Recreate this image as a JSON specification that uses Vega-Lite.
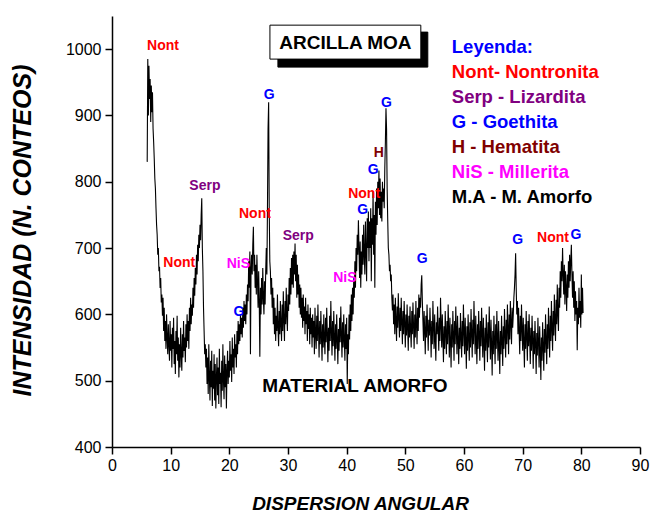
{
  "$schema": "https://vega.github.io/schema/vega-lite/v6.json",
  "autosize": "none",
  "width": 528,
  "height": 431,
  "padding": {"left": 112, "top": 16, "right": 12, "bottom": 67},
  "background": "white",
  "config": {"view": {"stroke": null}, "font": "Liberation Sans"},
  "datasets": {
    "xrd": [
      {"x":6.0,"y":830},{"x":6.1,"y":985},{"x":6.2,"y":900},{"x":6.3,"y":975},{"x":6.4,"y":925},{"x":6.5,"y":955},{"x":6.6,"y":890},{"x":6.7,"y":945},{"x":6.8,"y":905},{"x":6.9,"y":935},
      {"x":7.0,"y":880},{"x":7.1,"y":860},{"x":7.2,"y":835},{"x":7.3,"y":805},{"x":7.4,"y":790},{"x":7.5,"y":760},{"x":7.6,"y":735},{"x":7.7,"y":720},{"x":7.8,"y":690},{"x":7.9,"y":700},
      {"x":8.0,"y":665},{"x":8.1,"y":672},{"x":8.2,"y":640},{"x":8.3,"y":655},{"x":8.4,"y":618},{"x":8.5,"y":630},{"x":8.6,"y":598},{"x":8.7,"y":625},{"x":8.8,"y":575},{"x":8.9,"y":610},
      {"x":9.0,"y":560},{"x":9.1,"y":590},{"x":9.2,"y":548},{"x":9.3,"y":600},{"x":9.4,"y":565},{"x":9.5,"y":540},{"x":9.6,"y":585},{"x":9.7,"y":555},{"x":9.8,"y":530},{"x":9.9,"y":590},
      {"x":10.0,"y":545},{"x":10.1,"y":570},{"x":10.2,"y":520},{"x":10.3,"y":580},{"x":10.4,"y":548},{"x":10.5,"y":595},{"x":10.6,"y":525},{"x":10.7,"y":560},{"x":10.8,"y":510},{"x":10.9,"y":575},
      {"x":11.0,"y":540},{"x":11.1,"y":598},{"x":11.2,"y":530},{"x":11.3,"y":565},{"x":11.4,"y":505},{"x":11.5,"y":555},{"x":11.6,"y":520},{"x":11.7,"y":580},{"x":11.8,"y":540},{"x":11.9,"y":515},
      {"x":12.0,"y":570},{"x":12.1,"y":535},{"x":12.2,"y":590},{"x":12.3,"y":545},{"x":12.4,"y":565},{"x":12.5,"y":528},{"x":12.6,"y":585},{"x":12.7,"y":550},{"x":12.8,"y":600},{"x":12.9,"y":560},
      {"x":13.0,"y":590},{"x":13.1,"y":548},{"x":13.2,"y":610},{"x":13.3,"y":575},{"x":13.4,"y":625},{"x":13.5,"y":585},{"x":13.6,"y":615},{"x":13.7,"y":598},{"x":13.8,"y":640},{"x":13.9,"y":610},
      {"x":14.0,"y":655},{"x":14.1,"y":628},{"x":14.2,"y":670},{"x":14.3,"y":645},{"x":14.4,"y":690},{"x":14.5,"y":660},{"x":14.6,"y":705},{"x":14.7,"y":680},{"x":14.8,"y":720},{"x":14.9,"y":700},
      {"x":15.0,"y":735},{"x":15.1,"y":712},{"x":15.2,"y":750},{"x":15.3,"y":775},{"x":15.4,"y":700},{"x":15.5,"y":665},{"x":15.6,"y":610},{"x":15.7,"y":575},{"x":15.8,"y":540},{"x":15.9,"y":555},
      {"x":16.0,"y":520},{"x":16.1,"y":548},{"x":16.2,"y":495},{"x":16.3,"y":535},{"x":16.4,"y":480},{"x":16.5,"y":555},{"x":16.6,"y":505},{"x":16.7,"y":470},{"x":16.8,"y":530},{"x":16.9,"y":490},
      {"x":17.0,"y":545},{"x":17.1,"y":462},{"x":17.2,"y":515},{"x":17.3,"y":488},{"x":17.4,"y":540},{"x":17.5,"y":470},{"x":17.6,"y":525},{"x":17.7,"y":458},{"x":17.8,"y":505},{"x":17.9,"y":535},
      {"x":18.0,"y":478},{"x":18.1,"y":520},{"x":18.2,"y":465},{"x":18.3,"y":548},{"x":18.4,"y":495},{"x":18.5,"y":512},{"x":18.6,"y":460},{"x":18.7,"y":530},{"x":18.8,"y":485},{"x":18.9,"y":555},
      {"x":19.0,"y":500},{"x":19.1,"y":472},{"x":19.2,"y":538},{"x":19.3,"y":490},{"x":19.4,"y":525},{"x":19.5,"y":458},{"x":19.6,"y":515},{"x":19.7,"y":545},{"x":19.8,"y":495},{"x":19.9,"y":530},
      {"x":20.0,"y":505},{"x":20.1,"y":560},{"x":20.2,"y":515},{"x":20.3,"y":540},{"x":20.4,"y":498},{"x":20.5,"y":565},{"x":20.6,"y":520},{"x":20.7,"y":548},{"x":20.8,"y":510},{"x":20.9,"y":570},
      {"x":21.0,"y":535},{"x":21.1,"y":555},{"x":21.2,"y":520},{"x":21.3,"y":575},{"x":21.4,"y":540},{"x":21.5,"y":590},{"x":21.6,"y":555},{"x":21.7,"y":585},{"x":21.8,"y":560},{"x":21.9,"y":600},
      {"x":22.0,"y":570},{"x":22.1,"y":595},{"x":22.2,"y":565},{"x":22.3,"y":610},{"x":22.4,"y":580},{"x":22.5,"y":620},{"x":22.6,"y":590},{"x":22.7,"y":615},{"x":22.8,"y":585},{"x":22.9,"y":630},
      {"x":23.0,"y":600},{"x":23.1,"y":645},{"x":23.2,"y":620},{"x":23.3,"y":680},{"x":23.4,"y":640},{"x":23.5,"y":695},{"x":23.6,"y":540},{"x":23.7,"y":670},{"x":23.8,"y":690},{"x":23.9,"y":660},
      {"x":24.0,"y":705},{"x":24.1,"y":732},{"x":24.2,"y":665},{"x":24.3,"y":690},{"x":24.4,"y":640},{"x":24.5,"y":675},{"x":24.6,"y":630},{"x":24.7,"y":690},{"x":24.8,"y":650},{"x":24.9,"y":610},
      {"x":25.0,"y":665},{"x":25.1,"y":620},{"x":25.2,"y":536},{"x":25.3,"y":640},{"x":25.4,"y":600},{"x":25.5,"y":655},{"x":25.6,"y":615},{"x":25.7,"y":670},{"x":25.8,"y":625},{"x":25.9,"y":600},
      {"x":26.0,"y":650},{"x":26.1,"y":615},{"x":26.2,"y":665},{"x":26.3,"y":700},{"x":26.4,"y":660},{"x":26.5,"y":760},{"x":26.6,"y":880},{"x":26.7,"y":920},{"x":26.8,"y":760},{"x":26.9,"y":680},
      {"x":27.0,"y":665},{"x":27.1,"y":630},{"x":27.2,"y":655},{"x":27.3,"y":610},{"x":27.4,"y":640},{"x":27.5,"y":585},{"x":27.6,"y":625},{"x":27.7,"y":570},{"x":27.8,"y":610},{"x":27.9,"y":560},
      {"x":28.0,"y":598},{"x":28.1,"y":575},{"x":28.2,"y":630},{"x":28.3,"y":580},{"x":28.4,"y":552},{"x":28.5,"y":605},{"x":28.6,"y":570},{"x":28.7,"y":620},{"x":28.8,"y":585},{"x":28.9,"y":560},
      {"x":29.0,"y":615},{"x":29.1,"y":575},{"x":29.2,"y":635},{"x":29.3,"y":590},{"x":29.4,"y":560},{"x":29.5,"y":620},{"x":29.6,"y":585},{"x":29.7,"y":640},{"x":29.8,"y":600},{"x":29.9,"y":575},
      {"x":30.0,"y":630},{"x":30.1,"y":605},{"x":30.2,"y":655},{"x":30.3,"y":615},{"x":30.4,"y":670},{"x":30.5,"y":630},{"x":30.6,"y":685},{"x":30.7,"y":645},{"x":30.8,"y":690},{"x":30.9,"y":640},
      {"x":31.0,"y":695},{"x":31.1,"y":660},{"x":31.2,"y":707},{"x":31.3,"y":650},{"x":31.4,"y":690},{"x":31.5,"y":625},{"x":31.6,"y":675},{"x":31.7,"y":630},{"x":31.8,"y":660},{"x":31.9,"y":610},
      {"x":32.0,"y":645},{"x":32.1,"y":600},{"x":32.2,"y":640},{"x":32.3,"y":595},{"x":32.4,"y":625},{"x":32.5,"y":580},{"x":32.6,"y":630},{"x":32.7,"y":590},{"x":32.8,"y":612},{"x":32.9,"y":570},
      {"x":33.0,"y":625},{"x":33.1,"y":585},{"x":33.2,"y":605},{"x":33.3,"y":560},{"x":33.4,"y":615},{"x":33.5,"y":578},{"x":33.6,"y":600},{"x":33.7,"y":555},{"x":33.8,"y":610},{"x":33.9,"y":570},
      {"x":34.0,"y":595},{"x":34.1,"y":550},{"x":34.2,"y":600},{"x":34.3,"y":565},{"x":34.4,"y":590},{"x":34.5,"y":540},{"x":34.6,"y":610},{"x":34.7,"y":570},{"x":34.8,"y":548},{"x":34.9,"y":598},
      {"x":35.0,"y":560},{"x":35.1,"y":615},{"x":35.2,"y":575},{"x":35.3,"y":535},{"x":35.4,"y":590},{"x":35.5,"y":555},{"x":35.6,"y":605},{"x":35.7,"y":568},{"x":35.8,"y":530},{"x":35.9,"y":585},
      {"x":36.0,"y":550},{"x":36.1,"y":600},{"x":36.2,"y":562},{"x":36.3,"y":540},{"x":36.4,"y":595},{"x":36.5,"y":558},{"x":36.6,"y":610},{"x":36.7,"y":572},{"x":36.8,"y":528},{"x":36.9,"y":580},
      {"x":37.0,"y":545},{"x":37.1,"y":598},{"x":37.2,"y":560},{"x":37.3,"y":620},{"x":37.4,"y":575},{"x":37.5,"y":538},{"x":37.6,"y":590},{"x":37.7,"y":552},{"x":37.8,"y":605},{"x":37.9,"y":565},
      {"x":38.0,"y":530},{"x":38.1,"y":585},{"x":38.2,"y":548},{"x":38.3,"y":600},{"x":38.4,"y":562},{"x":38.5,"y":525},{"x":38.6,"y":578},{"x":38.7,"y":545},{"x":38.8,"y":595},{"x":38.9,"y":558},
      {"x":39.0,"y":612},{"x":39.1,"y":570},{"x":39.2,"y":535},{"x":39.3,"y":588},{"x":39.4,"y":550},{"x":39.5,"y":600},{"x":39.6,"y":562},{"x":39.7,"y":530},{"x":39.8,"y":585},{"x":39.9,"y":548},
      {"x":40.0,"y":595},{"x":40.1,"y":495},{"x":40.2,"y":570},{"x":40.3,"y":540},{"x":40.4,"y":600},{"x":40.5,"y":562},{"x":40.6,"y":615},{"x":40.7,"y":575},{"x":40.8,"y":630},{"x":40.9,"y":590},
      {"x":41.0,"y":640},{"x":41.1,"y":600},{"x":41.2,"y":655},{"x":41.3,"y":625},{"x":41.4,"y":680},{"x":41.5,"y":640},{"x":41.6,"y":700},{"x":41.7,"y":665},{"x":41.8,"y":720},{"x":41.9,"y":690},
      {"x":42.0,"y":742},{"x":42.1,"y":700},{"x":42.2,"y":655},{"x":42.3,"y":710},{"x":42.4,"y":640},{"x":42.5,"y":695},{"x":42.6,"y":660},{"x":42.7,"y":720},{"x":42.8,"y":675},{"x":42.9,"y":735},
      {"x":43.0,"y":690},{"x":43.1,"y":660},{"x":43.2,"y":740},{"x":43.3,"y":695},{"x":43.4,"y":650},{"x":43.5,"y":745},{"x":43.6,"y":700},{"x":43.7,"y":755},{"x":43.8,"y":680},{"x":43.9,"y":740},
      {"x":44.0,"y":700},{"x":44.1,"y":760},{"x":44.2,"y":650},{"x":44.3,"y":745},{"x":44.4,"y":705},{"x":44.5,"y":785},{"x":44.6,"y":690},{"x":44.7,"y":750},{"x":44.8,"y":640},{"x":44.9,"y":770},
      {"x":45.0,"y":720},{"x":45.1,"y":790},{"x":45.2,"y":735},{"x":45.3,"y":800},{"x":45.4,"y":760},{"x":45.5,"y":817},{"x":45.6,"y":750},{"x":45.7,"y":805},{"x":45.8,"y":745},{"x":45.9,"y":785},
      {"x":46.0,"y":740},{"x":46.1,"y":800},{"x":46.2,"y":770},{"x":46.3,"y":790},{"x":46.4,"y":760},{"x":46.5,"y":820},{"x":46.6,"y":860},{"x":46.7,"y":911},{"x":46.8,"y":880},{"x":46.9,"y":790},
      {"x":47.0,"y":742},{"x":47.1,"y":700},{"x":47.2,"y":690},{"x":47.3,"y":665},{"x":47.4,"y":675},{"x":47.5,"y":650},{"x":47.6,"y":660},{"x":47.7,"y":625},{"x":47.8,"y":606},{"x":47.9,"y":630},
      {"x":48.0,"y":585},{"x":48.1,"y":615},{"x":48.2,"y":570},{"x":48.3,"y":625},{"x":48.4,"y":590},{"x":48.5,"y":560},{"x":48.6,"y":612},{"x":48.7,"y":580},{"x":48.8,"y":632},{"x":48.9,"y":595},
      {"x":49.0,"y":565},{"x":49.1,"y":610},{"x":49.2,"y":575},{"x":49.3,"y":625},{"x":49.4,"y":588},{"x":49.5,"y":555},{"x":49.6,"y":605},{"x":49.7,"y":570},{"x":49.8,"y":620},{"x":49.9,"y":585},
      {"x":50.0,"y":550},{"x":50.1,"y":600},{"x":50.2,"y":568},{"x":50.3,"y":615},{"x":50.4,"y":580},{"x":50.5,"y":545},{"x":50.6,"y":598},{"x":50.7,"y":565},{"x":50.8,"y":612},{"x":50.9,"y":575},
      {"x":51.0,"y":550},{"x":51.1,"y":605},{"x":51.2,"y":570},{"x":51.3,"y":618},{"x":51.4,"y":582},{"x":51.5,"y":548},{"x":51.6,"y":600},{"x":51.7,"y":565},{"x":51.8,"y":620},{"x":51.9,"y":585},
      {"x":52.0,"y":555},{"x":52.1,"y":610},{"x":52.2,"y":575},{"x":52.3,"y":630},{"x":52.4,"y":595},{"x":52.5,"y":625},{"x":52.6,"y":610},{"x":52.7,"y":645},{"x":52.8,"y":659},{"x":52.9,"y":620},
      {"x":53.0,"y":590},{"x":53.1,"y":560},{"x":53.2,"y":605},{"x":53.3,"y":575},{"x":53.4,"y":540},{"x":53.5,"y":598},{"x":53.6,"y":565},{"x":53.7,"y":615},{"x":53.8,"y":580},{"x":53.9,"y":545},
      {"x":54.0,"y":592},{"x":54.1,"y":568},{"x":54.2,"y":610},{"x":54.3,"y":578},{"x":54.4,"y":535},{"x":54.5,"y":590},{"x":54.6,"y":555},{"x":54.7,"y":620},{"x":54.8,"y":582},{"x":54.9,"y":548},
      {"x":55.0,"y":600},{"x":55.1,"y":562},{"x":55.2,"y":530},{"x":55.3,"y":588},{"x":55.4,"y":570},{"x":55.5,"y":612},{"x":55.6,"y":575},{"x":55.7,"y":545},{"x":55.8,"y":595},{"x":55.9,"y":560},
      {"x":56.0,"y":625},{"x":56.1,"y":585},{"x":56.2,"y":550},{"x":56.3,"y":600},{"x":56.4,"y":565},{"x":56.5,"y":528},{"x":56.6,"y":582},{"x":56.7,"y":548},{"x":56.8,"y":605},{"x":56.9,"y":572},
      {"x":57.0,"y":540},{"x":57.1,"y":590},{"x":57.2,"y":555},{"x":57.3,"y":615},{"x":57.4,"y":578},{"x":57.5,"y":535},{"x":57.6,"y":595},{"x":57.7,"y":560},{"x":57.8,"y":520},{"x":57.9,"y":585},
      {"x":58.0,"y":550},{"x":58.1,"y":605},{"x":58.2,"y":568},{"x":58.3,"y":530},{"x":58.4,"y":590},{"x":58.5,"y":555},{"x":58.6,"y":612},{"x":58.7,"y":575},{"x":58.8,"y":540},{"x":58.9,"y":598},
      {"x":59.0,"y":562},{"x":59.1,"y":525},{"x":59.2,"y":580},{"x":59.3,"y":548},{"x":59.4,"y":602},{"x":59.5,"y":565},{"x":59.6,"y":535},{"x":59.7,"y":590},{"x":59.8,"y":552},{"x":59.9,"y":615},
      {"x":60.0,"y":575},{"x":60.1,"y":540},{"x":60.2,"y":595},{"x":60.3,"y":560},{"x":60.4,"y":518},{"x":60.5,"y":582},{"x":60.6,"y":545},{"x":60.7,"y":600},{"x":60.8,"y":565},{"x":60.9,"y":530},
      {"x":61.0,"y":588},{"x":61.1,"y":550},{"x":61.2,"y":608},{"x":61.3,"y":572},{"x":61.4,"y":535},{"x":61.5,"y":592},{"x":61.6,"y":555},{"x":61.7,"y":620},{"x":61.8,"y":578},{"x":61.9,"y":540},
      {"x":62.0,"y":598},{"x":62.1,"y":560},{"x":62.2,"y":525},{"x":62.3,"y":585},{"x":62.4,"y":548},{"x":62.5,"y":605},{"x":62.6,"y":568},{"x":62.7,"y":530},{"x":62.8,"y":590},{"x":62.9,"y":552},
      {"x":63.0,"y":610},{"x":63.1,"y":572},{"x":63.2,"y":535},{"x":63.3,"y":595},{"x":63.4,"y":558},{"x":63.5,"y":515},{"x":63.6,"y":580},{"x":63.7,"y":545},{"x":63.8,"y":600},{"x":63.9,"y":562},
      {"x":64.0,"y":528},{"x":64.1,"y":588},{"x":64.2,"y":550},{"x":64.3,"y":612},{"x":64.4,"y":570},{"x":64.5,"y":532},{"x":64.6,"y":592},{"x":64.7,"y":555},{"x":64.8,"y":508},{"x":64.9,"y":575},
      {"x":65.0,"y":540},{"x":65.1,"y":598},{"x":65.2,"y":560},{"x":65.3,"y":525},{"x":65.4,"y":585},{"x":65.5,"y":548},{"x":65.6,"y":605},{"x":65.7,"y":565},{"x":65.8,"y":530},{"x":65.9,"y":590},
      {"x":66.0,"y":552},{"x":66.1,"y":510},{"x":66.2,"y":575},{"x":66.3,"y":540},{"x":66.4,"y":598},{"x":66.5,"y":560},{"x":66.6,"y":522},{"x":66.7,"y":582},{"x":66.8,"y":548},{"x":66.9,"y":608},
      {"x":67.0,"y":570},{"x":67.1,"y":535},{"x":67.2,"y":592},{"x":67.3,"y":555},{"x":67.4,"y":615},{"x":67.5,"y":578},{"x":67.6,"y":540},{"x":67.7,"y":600},{"x":67.8,"y":562},{"x":67.9,"y":620},
      {"x":68.0,"y":585},{"x":68.1,"y":555},{"x":68.2,"y":610},{"x":68.3,"y":580},{"x":68.4,"y":600},{"x":68.5,"y":625},{"x":68.6,"y":640},{"x":68.7,"y":660},{"x":68.8,"y":692},{"x":68.9,"y":640},
      {"x":69.0,"y":600},{"x":69.1,"y":620},{"x":69.2,"y":570},{"x":69.3,"y":610},{"x":69.4,"y":575},{"x":69.5,"y":540},{"x":69.6,"y":598},{"x":69.7,"y":560},{"x":69.8,"y":615},{"x":69.9,"y":578},
      {"x":70.0,"y":545},{"x":70.1,"y":595},{"x":70.2,"y":558},{"x":70.3,"y":520},{"x":70.4,"y":585},{"x":70.5,"y":548},{"x":70.6,"y":605},{"x":70.7,"y":565},{"x":70.8,"y":530},{"x":70.9,"y":590},
      {"x":71.0,"y":552},{"x":71.1,"y":600},{"x":71.2,"y":562},{"x":71.3,"y":525},{"x":71.4,"y":580},{"x":71.5,"y":545},{"x":71.6,"y":598},{"x":71.7,"y":560},{"x":71.8,"y":518},{"x":71.9,"y":575},
      {"x":72.0,"y":540},{"x":72.1,"y":590},{"x":72.2,"y":555},{"x":72.3,"y":510},{"x":72.4,"y":572},{"x":72.5,"y":538},{"x":72.6,"y":595},{"x":72.7,"y":558},{"x":72.8,"y":520},{"x":72.9,"y":582},
      {"x":73.0,"y":545},{"x":73.1,"y":501},{"x":73.2,"y":565},{"x":73.3,"y":530},{"x":73.4,"y":588},{"x":73.5,"y":550},{"x":73.6,"y":515},{"x":73.7,"y":578},{"x":73.8,"y":542},{"x":73.9,"y":600},
      {"x":74.0,"y":560},{"x":74.1,"y":525},{"x":74.2,"y":585},{"x":74.3,"y":548},{"x":74.4,"y":610},{"x":74.5,"y":570},{"x":74.6,"y":535},{"x":74.7,"y":598},{"x":74.8,"y":560},{"x":74.9,"y":620},
      {"x":75.0,"y":580},{"x":75.1,"y":545},{"x":75.2,"y":605},{"x":75.3,"y":568},{"x":75.4,"y":630},{"x":75.5,"y":590},{"x":75.6,"y":560},{"x":75.7,"y":622},{"x":75.8,"y":585},{"x":75.9,"y":645},
      {"x":76.0,"y":600},{"x":76.1,"y":575},{"x":76.2,"y":640},{"x":76.3,"y":610},{"x":76.4,"y":665},{"x":76.5,"y":625},{"x":76.6,"y":680},{"x":76.7,"y":650},{"x":76.8,"y":700},{"x":76.9,"y":660},
      {"x":77.0,"y":630},{"x":77.1,"y":675},{"x":77.2,"y":615},{"x":77.3,"y":665},{"x":77.4,"y":640},{"x":77.5,"y":605},{"x":77.6,"y":660},{"x":77.7,"y":625},{"x":77.8,"y":680},{"x":77.9,"y":640},
      {"x":78.0,"y":690},{"x":78.1,"y":650},{"x":78.2,"y":680},{"x":78.3,"y":705},{"x":78.4,"y":660},{"x":78.5,"y":625},{"x":78.6,"y":665},{"x":78.7,"y":610},{"x":78.8,"y":650},{"x":78.9,"y":590},
      {"x":79.0,"y":635},{"x":79.1,"y":600},{"x":79.2,"y":620},{"x":79.3,"y":546},{"x":79.4,"y":610},{"x":79.5,"y":585},{"x":79.6,"y":640},{"x":79.7,"y":595},{"x":79.8,"y":620},{"x":79.9,"y":580},
      {"x":80.0,"y":660},{"x":80.1,"y":600},{"x":80.2,"y":640},{"x":80.3,"y":602}
    ],
    "picos": [
      {"fase":"Nont","texto":"Nont","x":8.69,"y":1004.6},
      {"fase":"G","texto":"G","x":26.8,"y":930.7},
      {"fase":"Serp","texto":"Serp","x":15.84,"y":793.5},
      {"fase":"Nont","texto":"Nont","x":24.36,"y":751.3},
      {"fase":"Serp","texto":"Serp","x":31.74,"y":718.1},
      {"fase":"Nont","texto":"Nont","x":11.47,"y":677.4},
      {"fase":"NiS","texto":"NiS","x":21.55,"y":675.9},
      {"fase":"G","texto":"G","x":21.64,"y":603.5},
      {"fase":"NiS","texto":"NiS","x":39.69,"y":654.8},
      {"fase":"G","texto":"G","x":42.71,"y":757.3},
      {"fase":"Nont","texto":"Nont","x":42.98,"y":781.4},
      {"fase":"G","texto":"G","x":44.51,"y":817.6},
      {"fase":"H","texto":"H","x":45.49,"y":842.8},
      {"fase":"G","texto":"G","x":46.8,"y":919.1},
      {"fase":"G","texto":"G","x":52.86,"y":683.0},
      {"fase":"G","texto":"G","x":69.17,"y":712.1},
      {"fase":"Nont","texto":"Nont","x":75.18,"y":715.5},
      {"fase":"G","texto":"G","x":79.1,"y":720.1}
    ],
    "leyenda": [
      {"fase":"Leyenda","texto":"Leyenda:","x":57.92,"y":993.6},
      {"fase":"Nont","texto":"Nont- Nontronita","x":57.92,"y":955.9},
      {"fase":"Serp","texto":"Serp - Lizardita","x":57.92,"y":918.2},
      {"fase":"G","texto":"G - Goethita","x":57.92,"y":880.5},
      {"fase":"H","texto":"H - Hematita","x":57.92,"y":842.8},
      {"fase":"NiS","texto":"NiS - Millerita","x":57.92,"y":805.1},
      {"fase":"MA","texto":"M.A - M. Amorfo","x":57.92,"y":767.4}
    ],
    "caja": [
      {"parte":"sombra","x":28.28,"x2":53.83,"y":972.9,"y2":1025.7},
      {"parte":"marco","x":26.92,"x2":52.64,"y":985.0,"y2":1036.2}
    ]
  },
  "encoding": {
    "x": {"type": "quantitative"},
    "y": {"type": "quantitative"}
  },
  "layer": [
    {
      "data": {"name": "xrd"},
      "mark": {"type": "line", "color": "black", "strokeWidth": 1.1, "interpolate": "linear"},
      "encoding": {
        "x": {
          "field": "x", "type": "quantitative",
          "scale": {"domain": [0, 90], "nice": false, "zero": false},
          "axis": {
            "title": "DISPERSION ANGULAR",
            "values": [0,5,10,15,20,25,30,35,40,45,50,55,60,65,70,75,80,85,90],
            "labelExpr": "datum.value % 10 === 0 ? datum.label : ''",
            "grid": false,
            "domainColor": "black", "domainWidth": 1.5,
            "tickColor": "black", "tickWidth": 1.5,
            "tickSize": {"condition": {"test": "datum.value % 10 === 0", "value": 7}, "value": 4},
            "labelFont": "Liberation Sans", "labelFontSize": 16, "labelColor": "black", "labelPadding": 3,
            "labelFlush": false, "labelOverlap": false,
            "titleFont": "Liberation Sans", "titleFontSize": 19, "titleFontWeight": "bold", "titleFontStyle": "italic",
            "titleColor": "black", "titleX": 248, "titleY": 56, "titleBaseline": "middle", "titleAlign": "center"
          }
        },
        "y": {
          "field": "y", "type": "quantitative",
          "scale": {"domain": [400, 1050], "nice": false, "zero": false},
          "axis": {
            "title": "INTENSIDAD (N. CONTEOS)",
            "values": [400,450,500,550,600,650,700,750,800,850,900,950,1000,1050],
            "labelExpr": "datum.value % 100 === 0 && datum.value < 1050 ? datum.label : ''",
            "format": "d",
            "grid": false,
            "domainColor": "black", "domainWidth": 1.5,
            "tickColor": "black", "tickWidth": 1.5,
            "tickSize": {"condition": {"test": "datum.value % 100 === 0", "value": 7}, "value": 4},
            "labelFont": "Liberation Sans", "labelFontSize": 16, "labelColor": "black", "labelPadding": 4,
            "labelFlush": false, "labelOverlap": false,
            "titleFont": "Liberation Sans", "titleFontSize": 25, "titleFontWeight": "bold", "titleFontStyle": "italic",
            "titleColor": "black", "titleX": -90, "titleY": 214, "titleBaseline": "middle"
          }
        }
      }
    },
    {
      "data": {"name": "caja"},
      "mark": {"type": "rect", "stroke": "black", "strokeWidth": 1},
      "encoding": {
        "x": {"field": "x", "type": "quantitative"},
        "x2": {"field": "x2"},
        "y": {"field": "y", "type": "quantitative"},
        "y2": {"field": "y2"},
        "fill": {"field": "parte", "type": "nominal", "scale": {"domain": ["sombra","marco"], "range": ["black","white"]}, "legend": null}
      }
    },
    {
      "data": {"values": [{"texto": "ARCILLA MOA", "x": 39.78, "y": 1009.1}]},
      "mark": {"type": "text", "font": "Liberation Sans", "fontSize": 19, "fontWeight": "bold", "color": "black", "align": "center", "baseline": "middle"},
      "encoding": {
        "x": {"field": "x", "type": "quantitative"},
        "y": {"field": "y", "type": "quantitative"},
        "text": {"field": "texto"}
      }
    },
    {
      "data": {"values": [{"texto": "MATERIAL AMORFO", "x": 41.4, "y": 492.0}]},
      "mark": {"type": "text", "font": "Liberation Sans", "fontSize": 19, "fontWeight": "bold", "color": "black", "align": "center", "baseline": "middle"},
      "encoding": {
        "x": {"field": "x", "type": "quantitative"},
        "y": {"field": "y", "type": "quantitative"},
        "text": {"field": "texto"}
      }
    },
    {
      "data": {"name": "picos"},
      "mark": {"type": "text", "font": "Liberation Sans", "fontSize": 14, "fontWeight": "bold", "align": "center", "baseline": "middle"},
      "encoding": {
        "x": {"field": "x", "type": "quantitative"},
        "y": {"field": "y", "type": "quantitative"},
        "text": {"field": "texto"},
        "color": {"field": "fase", "type": "nominal",
          "scale": {"domain": ["Leyenda","Nont","Serp","G","H","NiS","MA"], "range": ["#0000FF","#FF0000","#800080","#0000FF","#800000","#FF00FF","#000000"]},
          "legend": null}
      }
    },
    {
      "data": {"name": "leyenda"},
      "mark": {"type": "text", "font": "Liberation Sans", "fontSize": 18.5, "fontWeight": "bold", "align": "left", "baseline": "alphabetic"},
      "encoding": {
        "x": {"field": "x", "type": "quantitative"},
        "y": {"field": "y", "type": "quantitative"},
        "text": {"field": "texto"},
        "color": {"field": "fase", "type": "nominal", "legend": null}
      }
    }
  ]
}
